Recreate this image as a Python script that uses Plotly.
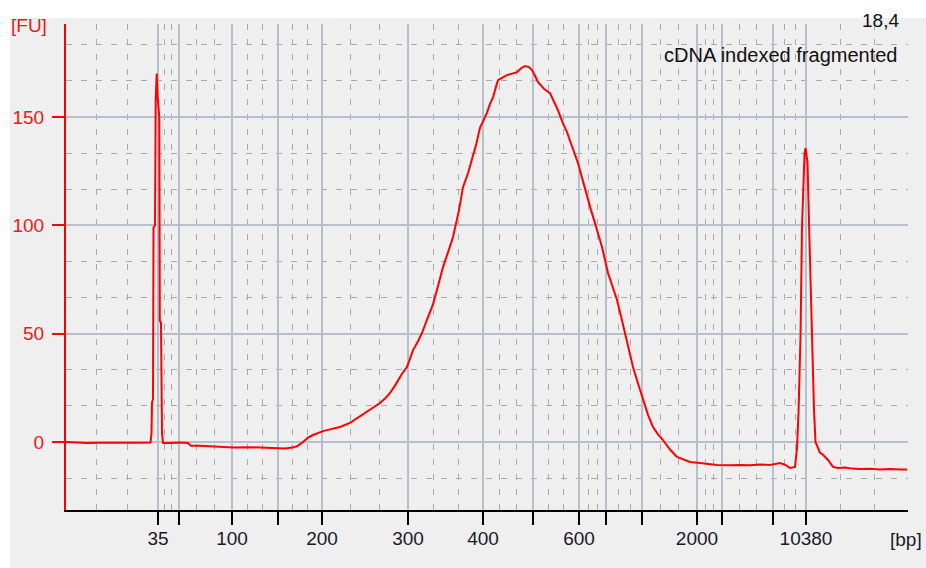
import plotly.graph_objects as go

# ---- data ----
# migration position (arbitrary run units, left edge of the trace = 0)
migration = [0, 9, 21, 34, 54, 74, 84.5, 85.5, 86, 87, 87.5, 89, 89.7, 90.7, 91.5, 92.5, 93.3, 93.8, 95, 96, 97,
             104, 114, 122, 125, 134, 149, 167, 184, 204, 219, 226, 231, 237, 242, 247, 252, 257, 264, 274, 284,
             291, 297, 304, 309, 314, 319, 324, 329, 332, 336, 341, 347, 352, 356, 361, 367, 372, 377, 382, 387,
             393, 397, 402, 406, 410, 414, 418, 421, 424, 427, 430, 432, 436, 441, 446, 451, 455, 459, 463, 466,
             469, 472, 478, 484, 488, 492, 497, 501, 504, 508, 512, 516, 521, 525, 529, 536, 542, 546, 551, 555,
             559, 563, 567, 572, 577, 582, 587, 592, 597, 604, 611, 618, 624, 634, 644, 651, 664, 674, 684, 694,
             704, 714, 719, 724, 729, 731, 732.5, 734.5, 736, 737.5, 738.5, 739.5, 740.5, 741.5, 743, 745, 746.5,
             748, 749.5, 752, 754, 756, 759, 762, 767, 772, 779, 786, 794, 804, 814, 824, 834, 841]
fluorescence = [0.0, -0.2, -0.5, -0.4, -0.5, -0.4, -0.3, 4, 18, 20, 99, 100, 158, 170, 160, 154, 150, 56, 55, 4, -0.5,
                -0.5, -0.3, -0.5, -1.8, -1.8, -2.2, -2.6, -2.4, -2.8, -3.0, -2.6, -2.0, 0.0, 2.0, 3.2, 4.2, 5.0, 5.8, 6.9, 8.8,
                11.0, 12.5, 14.8, 16.5, 18.0, 20.0, 22.6, 26.0, 28.6, 31.5, 34.6, 42.4, 46.5, 50.3, 56.5, 63.5, 72, 80.7, 87.5, 94.6,
                107, 117.6, 124, 130, 137, 145, 149, 152, 156, 159, 164, 167, 168, 169.3, 170, 170.7, 172.5, 173.5, 173, 171.6,
                169, 166, 163, 161, 157, 153, 147, 143, 139, 134, 128.7, 122, 113, 107, 101, 90, 78, 72, 65.5, 58,
                50.3, 42, 34.6, 27, 19.4, 12.5, 6.9, 3.5, 0.9, -3.5, -6.9, -8.3, -9.2, -9.7, -10.3, -10.6, -10.8, -10.6, -10.8, -10.4,
                -10.6, -9.7, -10.5, -12, -11.5, -2.8, 13.4, 48.4, 99, 128, 133, 135.6, 131, 129, 101.5, 67.8, 37.8,
                14.8, 0, -3, -5, -5.5, -6.9, -8.3, -11.5, -12, -11.8, -12.3, -12.5, -12.4, -12.7, -12.5, -12.7, -12.7]

# ladder peaks: migration position and size in bp
ladder_pos = [92, 112.5, 166, 212, 256, 342, 417, 467, 513, 540, 576, 631, 656, 707, 740]
ladder_bp = [35, 50, 100, 150, 200, 300, 400, 500, 600, 700, 1000, 2000, 3000, 7000, 10380]
shown_bp = [35, 100, 200, 300, 400, 600, 2000, 10380]

x_range = [0, 842]
y_range = [-31.4, 192.9]
y_major = [0, 50, 100, 150]

sample_value = "18,4"
sample_name = "cDNA indexed fragmented"
y_unit = "[FU]"
x_unit = "[bp]"

# ---- derived grid positions (thirds between major lines) ----
edges = [x_range[0]] + ladder_pos + [x_range[1]]
x_minor = []
for a, b in zip(edges[:-1], edges[1:]):
    x_minor += [a + (b - a) / 3, a + 2 * (b - a) / 3]
y_minor = []
for k in range(-1, 4):
    for j in (1, 2):
        v = 50 * k + j * 50 / 3
        if y_range[0] < v < y_range[1]:
            y_minor.append(v)

tick_text = [str(b) if b in shown_bp else "" for b in ladder_bp]

FONT = "Liberation Sans"
RED = "#ff0000"
GRID = "#b7bfcd"
MINOR = "#aaaaaa"

fig = go.Figure()
fig.add_trace(go.Scatter(x=migration, y=fluorescence, mode="lines",
                         line=dict(color=RED, width=2), hoverinfo="skip", showlegend=False))

W, H = 926, 568
L, R, T, B = 66, 18, 24, 58
pw, ph = W - L - R, H - T - B

def px(xp):
    return (xp - L) / pw

def py(yp):
    return (H - B - yp) / ph

fig.update_layout(
    width=W, height=H,
    margin=dict(l=L, r=R, t=T, b=B, pad=0),
    paper_bgcolor="#ffffff",
    plot_bgcolor="#f4f4f4",
    font=dict(family=FONT, size=19, color="#1a1a1a"),
    xaxis=dict(range=x_range, tickvals=ladder_pos, ticktext=tick_text,
               showgrid=True, gridcolor=GRID, gridwidth=2, zeroline=False,
               showline=True, linecolor="#000000", linewidth=2,
               ticks="outside", ticklen=13, tickwidth=2, tickcolor="#000000",
               tickfont=dict(family=FONT, size=19, color="#1a1a2a"),
               ticklabelstandoff=-3,
               minor=dict(tickvals=x_minor, showgrid=True, gridcolor=MINOR,
                          griddash="6px,9px", gridwidth=1, ticks=""),
               fixedrange=True),
    yaxis=dict(range=y_range, tickvals=y_major,
               showgrid=True, gridcolor=GRID, gridwidth=2, zeroline=False,
               showline=True, linecolor=RED, linewidth=2,
               ticks="outside", ticklen=12, tickwidth=2, tickcolor=RED,
               tickfont=dict(family=FONT, size=19, color="#f01818"),
               ticklabelstandoff=4,
               minor=dict(tickvals=y_minor, showgrid=True, gridcolor=MINOR,
                          griddash="6px,9px", gridwidth=1, ticks=""),
               fixedrange=True),
    shapes=[dict(type="rect", xref="paper", yref="paper", layer="below",
                 x0=px(10), x1=px(W + 2), y0=py(H + 2), y1=py(18),
                 fillcolor="#efefef", line=dict(width=0))],
    annotations=[
        dict(text=sample_value, xref="paper", yref="paper", x=px(901), y=py(21),
             xanchor="right", yanchor="middle", showarrow=False,
             font=dict(family=FONT, size=19, color="#111111")),
        dict(text=sample_name, xref="paper", yref="paper", x=px(899), y=py(55),
             xanchor="right", yanchor="middle", showarrow=False,
             font=dict(family=FONT, size=20, color="#111111")),
        dict(text=y_unit, xref="paper", yref="paper", x=px(29), y=py(26),
             xanchor="center", yanchor="middle", showarrow=False,
             font=dict(family=FONT, size=19, color="#f01818")),
        dict(text=x_unit, xref="paper", yref="paper", x=px(906), y=py(539),
             xanchor="center", yanchor="middle", showarrow=False,
             font=dict(family=FONT, size=19, color="#1a1a2a")),
    ],
)

fig.write_html("out.html", config=dict(displayModeBar=False))
